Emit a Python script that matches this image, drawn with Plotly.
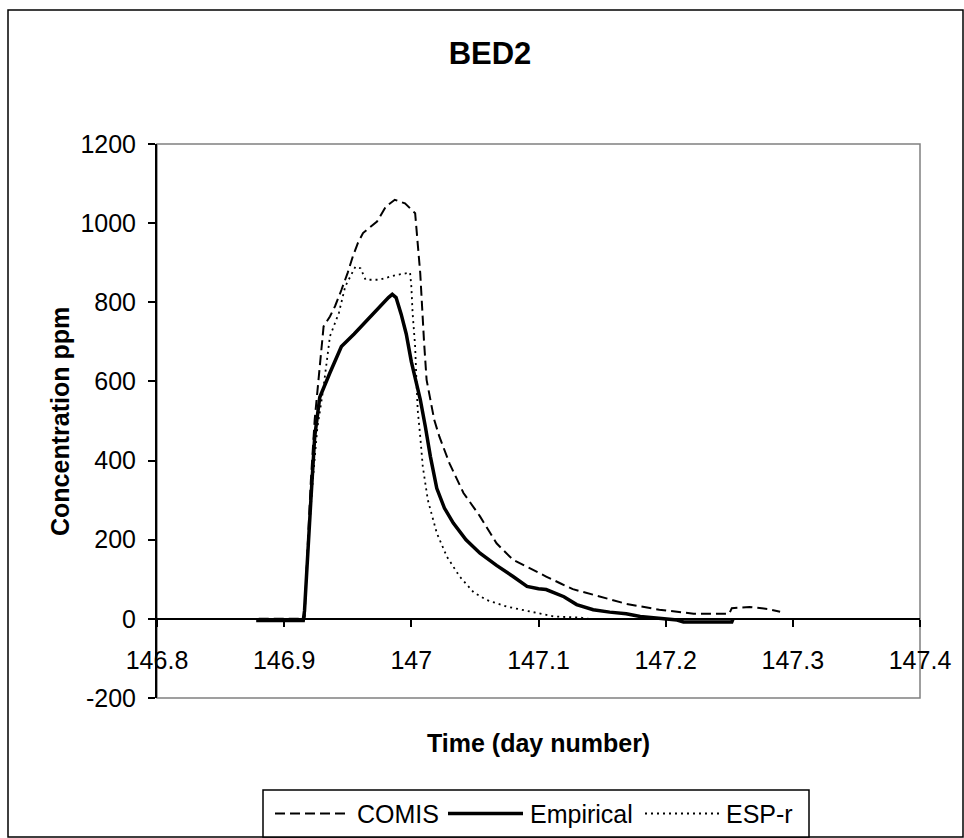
import plotly.graph_objects as go

# ---------------- data ----------------
comis_t = [146.880, 146.916, 146.918, 146.921, 146.924, 146.928, 146.931, 146.936, 146.940,
           146.945, 146.950, 146.954, 146.958, 146.962, 146.968, 146.973, 146.980, 146.987,
           146.995, 147.003, 147.005, 147.007, 147.010, 147.012, 147.018, 147.022, 147.030,
           147.041, 147.054, 147.067, 147.080, 147.093, 147.106, 147.117, 147.127, 147.143,
           147.169, 147.195, 147.222, 147.250, 147.252, 147.266, 147.280, 147.290]
comis_v = [0, 0, 150, 350, 503, 650, 739, 764, 790,
           831, 875, 916, 950, 975, 990, 1004, 1042, 1059,
           1050, 1025, 949, 874, 700, 604, 503, 461, 393,
           318, 259, 191, 149, 127, 107, 90, 75, 61,
           38, 23, 13, 13, 27, 30, 25, 18]

emp_t = [146.878, 146.915, 146.916, 146.918, 146.921, 146.924, 146.928, 146.936, 146.945,
         146.955, 146.965, 146.975, 146.982, 146.985, 146.988, 146.992, 146.996, 147.000,
         147.004, 147.007, 147.011, 147.015, 147.020, 147.026, 147.033, 147.043, 147.054,
         147.067, 147.080, 147.091, 147.100, 147.106, 147.113, 147.120, 147.130, 147.143,
         147.156, 147.169, 147.180, 147.195, 147.209, 147.214, 147.252, 147.253]
emp_v = [-4, -4, 20, 150, 300, 460, 560, 622, 688,
         720, 755, 788, 812, 820, 812, 770, 720, 650,
         600, 555, 486, 410, 330, 280, 242, 200, 166,
         135, 107, 82, 76, 74, 65, 56, 36, 23,
         17, 13, 6, 2, -3, -8, -8, 0]

esp_t = [146.880, 146.916, 146.918, 146.922, 146.926, 146.931, 146.936, 146.943, 146.948,
         146.952, 146.956, 146.960, 146.964, 146.975, 146.988, 146.999, 147.000, 147.001,
         147.003, 147.004, 147.005, 147.007, 147.009, 147.013, 147.020, 147.028, 147.038,
         147.049, 147.059, 147.075, 147.096, 147.112, 147.133, 147.140]
esp_v = [0, 0, 150, 330, 480, 587, 714, 773, 840,
         865, 890, 886, 857, 857, 869, 875, 840, 773,
         688, 604, 528, 461, 385, 300, 217, 157, 107,
         67, 48, 31, 16, 6, 3, 0]

series_names = ["COMIS", "Empirical", "ESP-r"]

x_ticks = [146.8, 146.9, 147.0, 147.1, 147.2, 147.3, 147.4]
x_tick_labels = ["146.8", "146.9", "147", "147.1", "147.2", "147.3", "147.4"]
y_ticks = [-200, 0, 200, 400, 600, 800, 1000, 1200]
y_tick_labels = ["-200", "0", "200", "400", "600", "800", "1000", "1200"]

# ---------------- layout geometry (pixels) ----------------
W, H = 964, 838
L, R, T, B = 157, 920, 144, 698
pw, ph = R - L, B - T


def px(x):
    return (x - L) / pw


def py(y):
    return (B - y) / ph


FONT = "Arial, Liberation Sans, sans-serif"
FS = 25

styles = [dict(color="black", width=2, dash="10px,5px"),
          dict(color="black", width=3.5),
          dict(color="black", width=1.8, dash="2px,4px")]

fig = go.Figure()
for name, t, v, st in zip(series_names, [comis_t, emp_t, esp_t], [comis_v, emp_v, esp_v], styles):
    fig.add_trace(go.Scatter(x=t, y=v, mode="lines", name=name, line=st, showlegend=False))

fig.update_layout(
    width=W, height=H,
    margin=dict(l=L, r=W - R, t=T, b=H - B, pad=0),
    paper_bgcolor="white", plot_bgcolor="white",
    font=dict(family=FONT, color="black", size=FS),
    title=dict(text="<b>BED2</b>", x=490 / W, xref="container", xanchor="center",
               y=1 - 53 / H, yref="container", yanchor="middle",
               font=dict(size=31, family=FONT, color="black")),
    xaxis=dict(range=[146.8, 147.4], tickvals=x_ticks, ticktext=x_tick_labels,
               showgrid=False, zeroline=False, showline=True, linecolor="black", linewidth=2,
               ticks="outside", ticklen=7, tickwidth=1.5, tickcolor="black",
               anchor="free", position=1 / 7, ticklabelstandoff=12,
               tickfont=dict(size=FS, family=FONT, color="black")),
    yaxis=dict(range=[-200, 1200], tickvals=y_ticks, ticktext=y_tick_labels,
               showgrid=False, zeroline=False, showline=True, linecolor="black", linewidth=2,
               ticks="outside", ticklen=7, tickwidth=1.5, tickcolor="black",
               ticklabelstandoff=7,
               tickfont=dict(size=FS, family=FONT, color="black")),
    showlegend=False,
)

# plot-area gray frame
fig.add_shape(type="rect", xref="paper", yref="paper", x0=0, x1=1, y0=0, y1=1,
              line=dict(color="#808080", width=1.5), layer="below")
# outer chart border
fig.add_shape(type="rect", xref="paper", yref="paper", x0=px(8), x1=px(963), y0=py(837), y1=py(10),
              line=dict(color="black", width=1.5), layer="below")

# axis titles
fig.add_annotation(text="<b>Time (day number)</b>", xref="paper", yref="paper",
                   x=0.5, y=py(743), xanchor="center", yanchor="middle", showarrow=False,
                   font=dict(size=FS, family=FONT, color="black"))
fig.add_annotation(text="<b>Concentration ppm</b>", xref="paper", yref="paper",
                   x=px(60), y=0.5, xanchor="center", yanchor="middle", showarrow=False,
                   textangle=-90, font=dict(size=FS, family=FONT, color="black"))

# legend box (drawn as a bordered panel below the axis title)
leg_l, leg_r, leg_t, leg_b = 263, 809, 790, 837
fig.add_shape(type="rect", xref="paper", yref="paper", x0=px(leg_l), x1=px(leg_r),
              y0=py(leg_b), y1=py(leg_t), line=dict(color="black", width=1.5),
              fillcolor="white", layer="above")
leg_y = (leg_t + leg_b) / 2
sample_x = [(275, 350), (448, 523), (645, 720)]
text_x = [355, 528, 724]
for name, st, (s0, s1), tx in zip(series_names, styles, sample_x, text_x):
    fig.add_shape(type="line", xref="paper", yref="paper", x0=px(s0), x1=px(s1),
                  y0=py(leg_y), y1=py(leg_y), line=st, layer="above")
    fig.add_annotation(text=name, xref="paper", yref="paper", x=px(tx), y=py(leg_y),
                       xanchor="left", yanchor="middle", showarrow=False,
                       font=dict(size=FS, family=FONT, color="black"))

fig.write_html("out.html")
